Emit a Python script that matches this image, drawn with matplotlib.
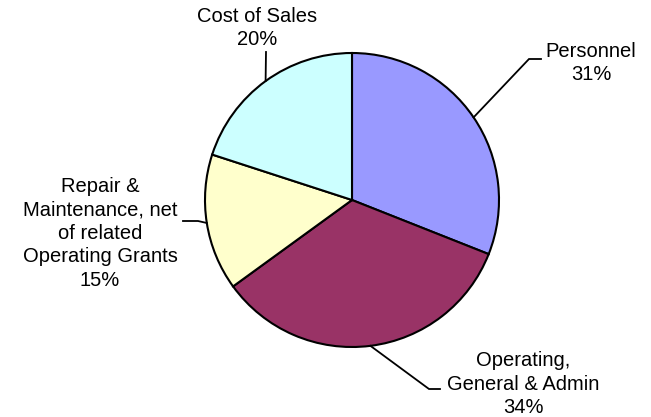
import numpy as np
import matplotlib.pyplot as plt

# data
labels = ["Personnel", "Operating,\nGeneral & Admin",
          "Repair &\nMaintenance, net\nof related\nOperating Grants", "Cost of Sales"]
shares = [31, 34, 15, 20]
colors = ["#9999FF", "#993366", "#FFFFCC", "#CCFFFF"]

# layout in image pixels (x, y from top)
W, H = 651, 417
center = (352, 200)
radius = 147
text_xy = [(591, 63), (523, 384), (100, 233), (257, 28)]
elbow_xy = [(529, 59), (429, 389), (198, 221), (266, 52)]
end_xy = [(541, 59), (440, 389), (183, 221), (266, 52)]

plt.rcParams['font.family'] = ['Liberation Sans', 'DejaVu Sans']

fig = plt.figure(figsize=(W / 100, H / 100), dpi=100)
ax = fig.add_axes([0, 0, 1, 1])

wedges, _ = ax.pie(shares, colors=colors, startangle=90, counterclock=False,
                   center=(center[0], H - center[1]), radius=radius,
                   wedgeprops=dict(edgecolor="black", linewidth=1.5))

ax.set_xlim(0, W)
ax.set_ylim(0, H)
ax.set_aspect("equal")
ax.axis("off")

for w, lab, val, t, e, n in zip(wedges, labels, shares, text_xy, elbow_xy, end_xy):
    ang = np.deg2rad((w.theta1 + w.theta2) / 2)
    px = center[0] + radius * np.cos(ang)
    py = H - center[1] + radius * np.sin(ang)
    ax.plot([px, e[0], n[0]], [py, H - e[1], H - n[1]], color="black", lw=1.3,
            solid_joinstyle="miter")
    ax.text(t[0], H - t[1], f"{lab}\n{val}%", ha="center", va="center",
            multialignment="center", fontsize=14.5, linespacing=1.3)

fig.savefig("out.png", dpi=100)
